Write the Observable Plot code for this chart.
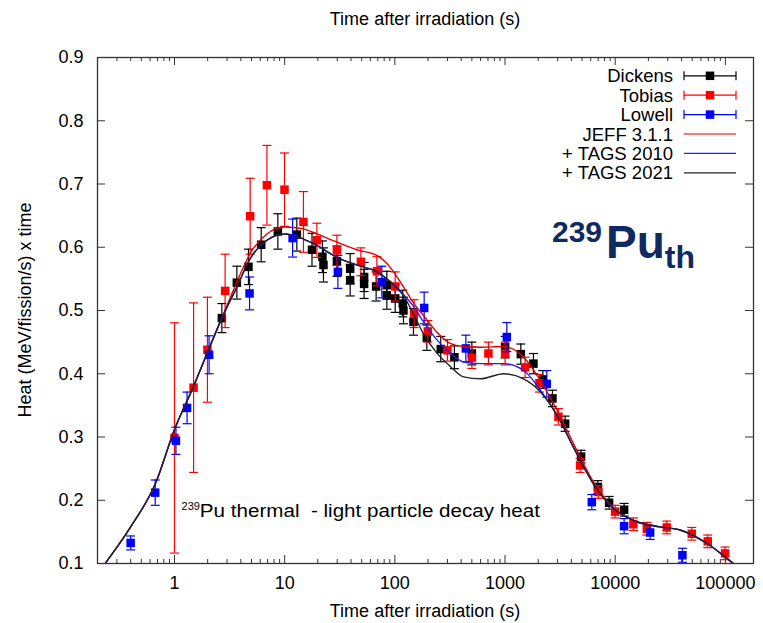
<!DOCTYPE html>
<html>
<head>
<meta charset="utf-8">
<script src="https://cdn.jsdelivr.net/npm/d3@7"></script>
<script src="https://cdn.jsdelivr.net/npm/@observablehq/plot@0.6"></script>
<style>
  body { margin: 0; background: #fff; }
  #chart svg { display: block; }
</style>
</head>
<body>
<div id="chart"></div>
<script>
// ---------------- data ----------------
const dickensT = [2.69, 3.68, 4.69, 6.12, 8.67, 12.9, 17.7, 22, 22.5, 29.8, 39.3, 39.3, 52.6, 52.6, 67.6, 84.6, 84.6, 100.7, 118, 119.7, 147.5, 195, 261, 347, 500, 1002, 1391, 1810, 2204, 2693, 3510, 4900, 6950, 8808, 12050];
const dickensV = [0.488, 0.544, 0.569, 0.604, 0.625, 0.620, 0.596, 0.585, 0.572, 0.578, 0.566, 0.548, 0.553, 0.542, 0.538, 0.540, 0.524, 0.519, 0.511, 0.500, 0.482, 0.457, 0.439, 0.426, 0.432, 0.442, 0.431, 0.416, 0.391, 0.361, 0.321, 0.269, 0.221, 0.196, 0.185];
const dickensErr = [0.023, 0.026, 0.028, 0.027, 0.028, 0.026, 0.026, 0.025, 0.027, 0.024, 0.024, 0.025, 0.023, 0.023, 0.023, 0.022, 0.022, 0.022, 0.021, 0.021, 0.021, 0.020, 0.020, 0.018, 0.018, 0.017, 0.016, 0.016, 0.014, 0.013, 0.012, 0.010, 0.010, 0.010, 0.010];

const tobiasT = [1.0, 1.49, 1.99, 2.88, 4.86, 6.9, 9.96, 14.8, 19.6, 29.8, 49.2, 68.7, 100.7, 149.6, 199, 300, 500, 707, 1002, 1521, 2051, 3053, 4800, 7040, 9980, 14630, 19360, 29380, 49550, 69200, 99400];
const tobiasV = [0.2985, 0.378, 0.438, 0.531, 0.649, 0.698, 0.691, 0.640, 0.611, 0.595, 0.577, 0.562, 0.538, 0.495, 0.467, 0.437, 0.4255, 0.432, 0.432, 0.410, 0.385, 0.332, 0.255, 0.213, 0.182, 0.162, 0.155, 0.157, 0.147, 0.135, 0.116];
const tobiasErr = [0.182, 0.134, 0.083, 0.058, 0.060, 0.063, 0.058, 0.048, 0.027, 0.024, 0.022, 0.023, 0.023, 0.022, 0.017, 0.017, 0.017, 0.018, 0.018, 0.016, 0.014, 0.013, 0.011, 0.010, 0.010, 0.010, 0.010, 0.010, 0.010, 0.010, 0.010];

const lowellT = [0.4, 0.668, 1.03, 1.30, 2.06, 4.8, 11.8, 30.4, 76.2, 184.5, 441, 1038, 2393, 6134, 12050, 20750, 40750];
const lowellV = [0.1325, 0.212, 0.294, 0.346, 0.430, 0.527, 0.6145, 0.561, 0.545, 0.504, 0.440, 0.458, 0.384, 0.197, 0.159, 0.149, 0.113];
const lowellErr = [0.011, 0.020, 0.0215, 0.025, 0.030, 0.026, 0.030, 0.026, 0.025, 0.025, 0.021, 0.023, 0.021, 0.012, 0.012, 0.011, 0.011];

const curveT    = [0.2, 0.235, 0.4, 0.67, 1, 1.48, 2.06, 2.69, 3.68, 4.86, 6.9, 10, 14.8, 19.6, 29.8, 45, 68.7, 90, 120, 150, 182, 240, 317, 420, 600, 970, 1470, 2080, 3160, 4170, 6340, 9640, 14630, 25550, 38800, 67800, 118300, 180000];
const jeffV     = [0.083, 0.1, 0.158, 0.226, 0.312, 0.379, 0.44, 0.488, 0.545, 0.590, 0.621, 0.632, 0.629, 0.621, 0.608, 0.596, 0.587, 0.569, 0.537, 0.510, 0.492, 0.466, 0.448, 0.443, 0.442, 0.443, 0.4265, 0.390, 0.333, 0.290, 0.229, 0.188, 0.168, 0.158, 0.153, 0.132, 0.100, 0.076];
const tags2010V = [0.083, 0.1, 0.158, 0.226, 0.312, 0.379, 0.44, 0.488, 0.537, 0.582, 0.611, 0.621, 0.613, 0.603, 0.584, 0.572, 0.561, 0.546, 0.525, 0.505, 0.482, 0.454, 0.433, 0.4186, 0.416, 0.416, 0.4055, 0.375, 0.326, 0.284, 0.226, 0.187, 0.168, 0.158, 0.153, 0.132, 0.100, 0.076];
const tags2021V = [0.083, 0.1, 0.158, 0.226, 0.312, 0.379, 0.44, 0.488, 0.537, 0.582, 0.611, 0.621, 0.613, 0.603, 0.584, 0.572, 0.561, 0.546, 0.523, 0.492, 0.463, 0.433, 0.412, 0.395, 0.392, 0.400, 0.392, 0.372, 0.326, 0.284, 0.226, 0.187, 0.168, 0.158, 0.153, 0.132, 0.100, 0.076];

const xMajorTicks = [1, 10, 100, 1000, 10000, 100000];
const yTicks = [0.1, 0.2, 0.3, 0.4, 0.5, 0.6, 0.7, 0.8, 0.9];

const legendLabels = ["Dickens", "Tobias", "Lowell", "JEFF 3.1.1", "+ TAGS 2010", "+ TAGS 2021"];
const legendColors = ["#000000", "#ff0000", "#0000ff", "#e00000", "#2020ff", "#222222"];
const legendKinds  = ["points", "points", "points", "line", "line", "line"];

const xTitle = "Time after irradiation (s)";
const yTitle = "Heat (MeV/fission/s) x time";
const noteText = "Pu thermal  - light particle decay heat";

// ---------------- build ----------------
const FONT = "'Liberation Sans', Arial, Helvetica, sans-serif";
const W = 763, H = 623, mL = 97, mR = 10, mT = 57, mB = 60;
const plotW = W - mL - mR, plotH = H - mT - mB;

const toRows = (T, V, E) => T.map((t, i) => ({t, v: V[i], lo: V[i] - E[i], hi: V[i] + E[i]}));
const dickens = toRows(dickensT, dickensV, dickensErr);
const tobias = toRows(tobiasT, tobiasV, tobiasErr);
const lowell = toRows(lowellT, lowellV, lowellErr);
const curves = curveT.map((t, i) => ({t, jeff: jeffV[i], t2010: tags2010V[i], t2021: tags2021V[i]}));

const domainX = [0.2, 180000];
const xMinorTicks = d3.range(-1, 6).flatMap(e => d3.range(2, 10).map(m => +(m * Math.pow(10, e)).toPrecision(3)))
  .filter(v => v > domainX[0] && v < domainX[1]);

const cap = { draw(ctx, size) { const r = Math.sqrt(size / Math.PI); ctx.moveTo(-r, 0); ctx.lineTo(r, 0); } };

function errMarks(data, color) {
  return [
    Plot.ruleX(data, {x: "t", y1: "lo", y2: "hi", stroke: color, strokeWidth: 1.2}),
    Plot.dot(data, {x: "t", y: "lo", symbol: cap, r: 4.5, stroke: color, strokeWidth: 1.2, fill: "none"}),
    Plot.dot(data, {x: "t", y: "hi", symbol: cap, r: 4.5, stroke: color, strokeWidth: 1.2, fill: "none"}),
    Plot.dot(data, {x: "t", y: "v", symbol: "square", r: 4.8, fill: color, stroke: "none"})
  ];
}

const chart = Plot.plot({
  width: W, height: H,
  marginLeft: mL, marginRight: mR, marginTop: mT, marginBottom: mB,
  style: {fontFamily: FONT, fontSize: "18px", background: "#fff", color: "#000"},
  x: {type: "log", domain: domainX},
  y: {domain: [0.1, 0.9]},
  marks: [
    ...errMarks(dickens, "#000000"),
    ...errMarks(tobias, "#ff0000"),
    ...errMarks(lowell, "#0000ff"),
    Plot.line(curves, {x: "t", y: "jeff", stroke: "#e00000", strokeWidth: 1.4, curve: "monotone-x", clip: true}),
    Plot.line(curves, {x: "t", y: "t2010", stroke: "#2020ff", strokeWidth: 1.4, curve: "monotone-x", clip: true}),
    Plot.line(curves, {x: "t", y: "t2021", stroke: "#222222", strokeWidth: 1.4, curve: "monotone-x", clip: true}),
    // inward ticks (gnuplot style), mirrored on all four sides
    Plot.tickX(xMajorTicks, {x: d => d, insetTop: plotH - 8, stroke: "#333"}),
    Plot.tickX(xMajorTicks, {x: d => d, insetBottom: plotH - 8, stroke: "#333"}),
    Plot.tickX(xMinorTicks, {x: d => d, insetTop: plotH - 4, stroke: "#333"}),
    Plot.tickX(xMinorTicks, {x: d => d, insetBottom: plotH - 4, stroke: "#333"}),
    Plot.tickY(yTicks, {y: d => d, insetRight: plotW - 8, stroke: "#333"}),
    Plot.tickY(yTicks, {y: d => d, insetLeft: plotW - 8, stroke: "#333"}),
    Plot.axisX(xMajorTicks, {anchor: "bottom", tickSize: 0, tickPadding: 13, tickFormat: d => String(d), label: null}),
    Plot.axisY(yTicks, {anchor: "left", tickSize: 0, tickPadding: 14, tickFormat: d => d.toFixed(1), label: null}),
    Plot.frame({stroke: "#333", strokeWidth: 1.3})
  ]
});

document.getElementById("chart").appendChild(chart);

const svg = d3.select(chart);
const sx = chart.scale("x"), sy = chart.scale("y");
const px = v => {
  const [d0, d1] = sx.domain, [r0, r1] = sx.range;
  return r0 + (Math.log10(v) - Math.log10(d0)) / (Math.log10(d1) - Math.log10(d0)) * (r1 - r0);
};
const py = v => {
  const [d0, d1] = sy.domain, [r0, r1] = sy.range;
  return r0 + (v - d0) / (d1 - d0) * (r1 - r0);
};
const cx = mL + plotW / 2;

// axis titles
svg.append("text").attr("x", cx).attr("y", 25).attr("text-anchor", "middle")
  .attr("font-size", 18).attr("fill", "#000").text(xTitle);
svg.append("text").attr("x", cx).attr("y", 617).attr("text-anchor", "middle")
  .attr("font-size", 18).attr("fill", "#000").text(xTitle);
svg.append("text").attr("transform", `translate(31,${mT + plotH / 2}) rotate(-90)`)
  .attr("text-anchor", "middle").attr("font-size", 18).attr("fill", "#000").text(yTitle);

// legend (gnuplot key, top right)
const lg = svg.append("g").attr("font-size", 18.5);
legendLabels.forEach((lab, i) => {
  const base = 82.3 + i * 19.4, ly = base - 6.5, col = legendColors[i];
  lg.append("text").attr("x", 673).attr("y", base).attr("text-anchor", "end").attr("fill", "#000").text(lab);
  lg.append("line").attr("x1", 684).attr("x2", 736).attr("y1", ly).attr("y2", ly)
    .attr("stroke", col).attr("stroke-width", 1.2);
  if (legendKinds[i] === "points") {
    [684, 736].forEach(xx => lg.append("line").attr("x1", xx).attr("x2", xx)
      .attr("y1", ly - 4.5).attr("y2", ly + 4.5).attr("stroke", col).attr("stroke-width", 1.2));
    lg.append("rect").attr("x", 710 - 4.25).attr("y", ly - 4.25).attr("width", 8.5).attr("height", 8.5).attr("fill", col);
  }
});

// big nuclide label
const big = svg.append("text").attr("x", 552).attr("y", 242).attr("text-anchor", "start")
  .attr("fill", "#0f2a62").attr("font-weight", "bold");
big.append("tspan").attr("font-size", 30).text("239");
big.append("tspan").attr("font-size", 46).attr("y", 258).attr("dx", 4).text("Pu");
big.append("tspan").attr("font-size", 32).attr("y", 268).text("th");

// annotation inside the plot
const note = svg.append("text").attr("x", px(1.17)).attr("y", py(0.1725)).attr("text-anchor", "start")
  .attr("fill", "#000").attr("style", "white-space:pre");
note.append("tspan").attr("font-size", 11).attr("dy", -7).text("239");
note.append("tspan").attr("font-size", 17.5).attr("dy", 7).attr("textLength", 340)
  .attr("lengthAdjust", "spacingAndGlyphs").text(noteText);
</script>
</body>
</html>
